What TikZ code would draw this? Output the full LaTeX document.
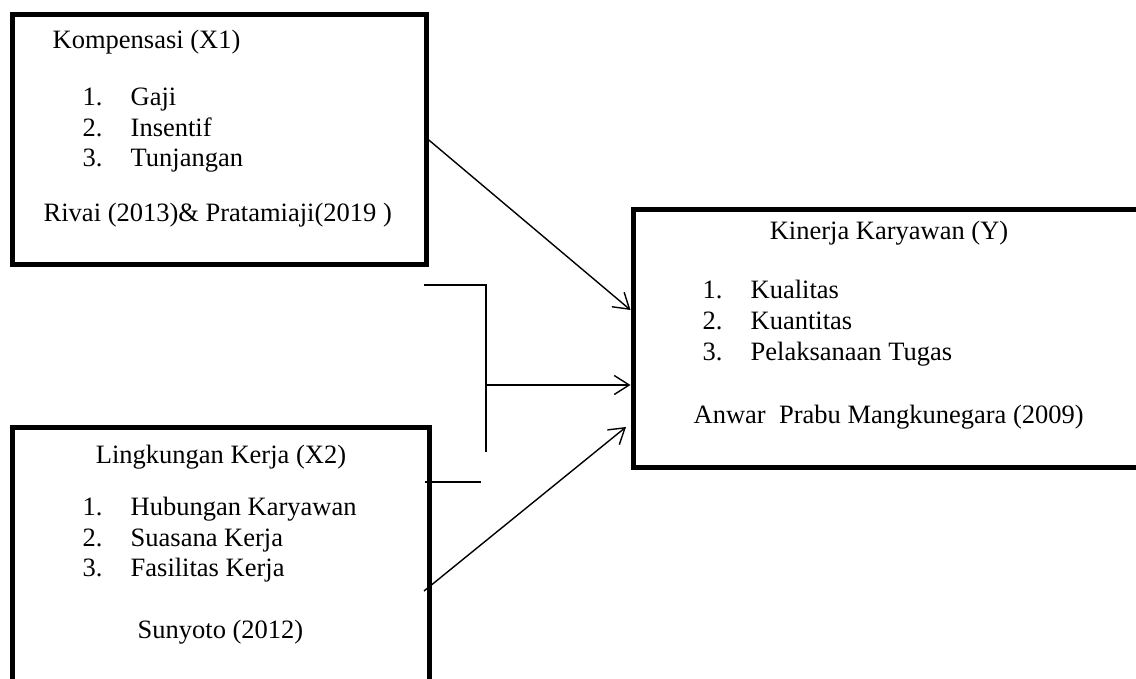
\documentclass[tikz,border=0pt]{standalone}
\usepackage{fontspec}
\setmainfont{Liberation Serif}
\usetikzlibrary{arrows.meta}

\tikzset{every picture/.style={line width=1.4pt}}
\tikzset{
	varbox/.style={draw, line width=5pt, inner sep=0pt},
	txt/.style={font=\fontsize{26.5}{30.5}\selectfont, inner sep=0pt, anchor=base west},
	conn/.style={-{Straight Barb[length=15pt,width=19pt]}}
}

\begin{document}
\begin{tikzpicture}[x=1pt,y=-1pt]
		\useasboundingbox (0,0) rectangle (1136,679);
		\clip (0,0) rectangle (1136,679);

		% kompensasi
		\node[varbox, minimum width=414pt, minimum height=249.5pt] (x1) at (219,139.75) {};
		\node[txt] (x1title) at (52,49) {Kompensasi (X1)};
		\foreach \num/\yy/\item in {1/106/Gaji, 2/136.5/Insentif, 3/167/Tunjangan}{
			\node[txt] (x1n\num) at (82,\yy) {\num.};
			\node[txt] (x1i\num) at (130,\yy) {\item};
		}
		\node[txt] (x1src) at (43,222) {Rivai (2013)\& Pratamiaji(2019 )};

		% lingkungan kerja
		\node[varbox, minimum width=417.5pt, minimum height=273pt] (x2) at (220.75,563.5) {};
		\node[txt, anchor=base] (x2title) at (221,463) {Lingkungan Kerja (X2)};
		\foreach \num/\yy/\item in {1/515.5/Hubungan Karyawan, 2/546/Suasana Kerja, 3/576.5/Fasilitas Kerja}{
			\node[txt] (x2n\num) at (82,\yy) {\num.};
			\node[txt] (x2i\num) at (130,\yy) {\item};
		}
		\node[txt, anchor=base] (x2src) at (220.5,638) {Sunyoto (2012)};

		% kinerja
		\node[varbox, minimum width=512pt, minimum height=257.5pt] (y) at (889,338.75) {};
		\node[txt, anchor=base] (ytitle) at (889,240) {Kinerja Karyawan (Y)};
		\foreach \num/\yy/\item in {1/299/Kualitas, 2/330/Kuantitas, 3/360.5/Pelaksanaan Tugas}{
			\node[txt] (yn\num) at (702,\yy) {\num.};
			\node[txt] (yi\num) at (750,\yy) {\item};
		}
		\node[txt] (ysrc) at (693,423) {Anwar\ \ Prabu Mangkunegara (2009)};

		% arrows
		\coordinate (t1) at (0,310);
		\coordinate (brtop) at (424,285);
		\coordinate (brbot) at (486,452);
		\coordinate (brmid) at (486,385);
		\coordinate (stub1) at (425,482);
		\coordinate (stub2) at (481,482);
		\coordinate (a3) at (424,591);
		\coordinate (a3end) at (626,427);

		\draw[conn] (x1.east) -- (y.west |- t1);
		\draw (brtop) -| (brbot);
		\draw[conn] (brmid) -- (y.west |- brmid);
		\draw (stub1) -- (stub2);
		\draw[conn] (a3) -- (a3end);
\end{tikzpicture}
\end{document}
